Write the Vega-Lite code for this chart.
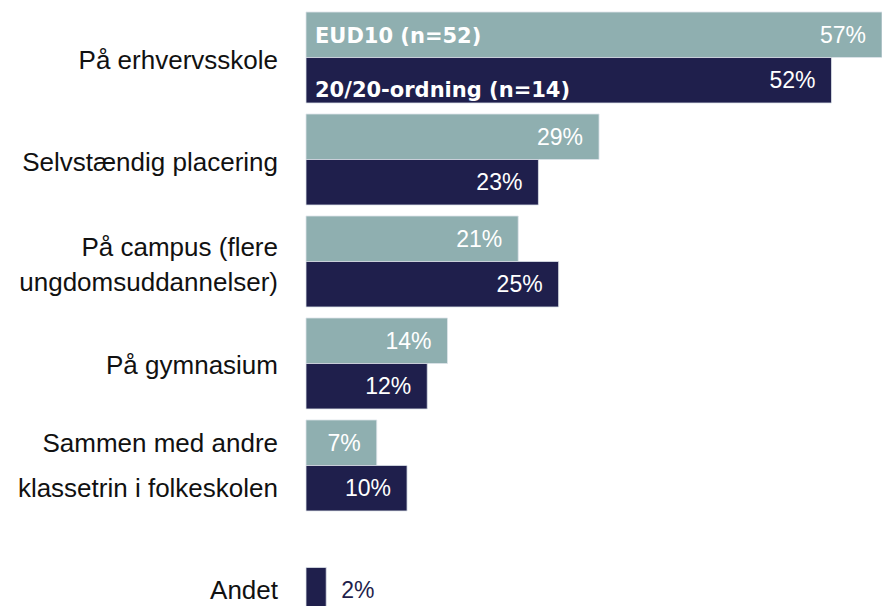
{
  "$schema": "https://vega.github.io/schema/vega-lite/v6.json",
  "width": 576,
  "height": 606,
  "autosize": {"type": "none"},
  "padding": {"left": 306, "top": 0, "right": 0, "bottom": 0},
  "background": "white",
  "config": {"view": {"stroke": null}, "font": "Liberation Sans"},
  "datasets": {
    "andele": [
      {"kategori": "På erhvervsskole", "gruppe": "EUD10 (n=52)", "andel": 0.57},
      {"kategori": "På erhvervsskole", "gruppe": "20/20-ordning (n=14)", "andel": 0.52},
      {"kategori": "Selvstændig placering", "gruppe": "EUD10 (n=52)", "andel": 0.29},
      {"kategori": "Selvstændig placering", "gruppe": "20/20-ordning (n=14)", "andel": 0.23},
      {"kategori": "På campus (flere ungdomsuddannelser)", "gruppe": "EUD10 (n=52)", "andel": 0.21},
      {"kategori": "På campus (flere ungdomsuddannelser)", "gruppe": "20/20-ordning (n=14)", "andel": 0.25},
      {"kategori": "På gymnasium", "gruppe": "EUD10 (n=52)", "andel": 0.14},
      {"kategori": "På gymnasium", "gruppe": "20/20-ordning (n=14)", "andel": 0.12},
      {"kategori": "Sammen med andre klassetrin i folkeskolen", "gruppe": "EUD10 (n=52)", "andel": 0.07},
      {"kategori": "Sammen med andre klassetrin i folkeskolen", "gruppe": "20/20-ordning (n=14)", "andel": 0.10},
      {"kategori": "Andet", "gruppe": "20/20-ordning (n=14)", "andel": 0.02}
    ],
    "etiketter": [
      {"kategori": "På erhvervsskole", "gruppe": null, "linjer": 1, "tekst": "På erhvervsskole"},
      {"kategori": "Selvstændig placering", "gruppe": null, "linjer": 1, "tekst": "Selvstændig placering"},
      {"kategori": "På campus (flere ungdomsuddannelser)", "gruppe": null, "linjer": 2, "tekst": "På campus (flere\nungdomsuddannelser)"},
      {"kategori": "På gymnasium", "gruppe": null, "linjer": 1, "tekst": "På gymnasium"},
      {"kategori": "Sammen med andre klassetrin i folkeskolen", "gruppe": "EUD10 (n=52)", "linjer": 1, "tekst": "Sammen med andre"},
      {"kategori": "Sammen med andre klassetrin i folkeskolen", "gruppe": "20/20-ordning (n=14)", "linjer": 1, "tekst": "klassetrin i folkeskolen"},
      {"kategori": "Andet", "gruppe": "20/20-ordning (n=14)", "linjer": 1, "tekst": "Andet"}
    ]
  },
  "encoding": {
    "y": {
      "field": "kategori",
      "type": "nominal",
      "sort": null,
      "axis": null,
      "scale": {
        "domain": [
          "På erhvervsskole",
          "Selvstændig placering",
          "På campus (flere ungdomsuddannelser)",
          "På gymnasium",
          "Sammen med andre klassetrin i folkeskolen",
          "Andet"
        ],
        "range": [0, 625],
        "paddingInner": 0.108,
        "paddingOuter": 0.118
      }
    }
  },
  "layer": [
    {
      "data": {"name": "andele"},
      "mark": {"type": "bar", "stroke": "#dde3ea", "strokeWidth": 0.8},
      "encoding": {
        "x": {"field": "andel", "type": "quantitative", "axis": null, "scale": {"domain": [0, 0.57], "nice": false, "zero": true}},
        "yOffset": {"field": "gruppe", "type": "nominal", "scale": {"domain": ["EUD10 (n=52)", "20/20-ordning (n=14)"], "paddingInner": 0, "paddingOuter": 0}},
        "color": {"field": "gruppe", "type": "nominal", "legend": null, "scale": {"domain": ["EUD10 (n=52)", "20/20-ordning (n=14)"], "range": ["#8fafb0", "#1f1f4c"]}}
      }
    },
    {
      "data": {"name": "andele"},
      "transform": [{"filter": "datum.andel >= 0.05"}],
      "mark": {"type": "text", "align": "right", "baseline": "middle", "dx": -16, "dy": 1, "fontSize": 23, "fill": "white"},
      "encoding": {
        "x": {"field": "andel", "type": "quantitative"},
        "yOffset": {"field": "gruppe", "type": "nominal"},
        "text": {"field": "andel", "type": "quantitative", "format": ".0%"}
      }
    },
    {
      "data": {"name": "andele"},
      "transform": [{"filter": "datum.andel < 0.05"}],
      "mark": {"type": "text", "align": "left", "baseline": "middle", "dx": 15, "dy": 1, "fontSize": 23, "fill": "#1f1f4c"},
      "encoding": {
        "x": {"field": "andel", "type": "quantitative"},
        "yOffset": {"field": "gruppe", "type": "nominal"},
        "text": {"field": "andel", "type": "quantitative", "format": ".0%"}
      }
    },
    {
      "data": {"name": "andele"},
      "transform": [{"filter": "datum.kategori === 'På erhvervsskole' && datum.gruppe === 'EUD10 (n=52)'"}],
      "mark": {"type": "text", "align": "left", "baseline": "alphabetic", "dx": 9, "dy": 8.5, "font": "DejaVu Sans", "fontWeight": "bold", "fontSize": 21, "fill": "white"},
      "encoding": {
        "x": {"datum": 0, "type": "quantitative"},
        "yOffset": {"field": "gruppe", "type": "nominal"},
        "text": {"field": "gruppe", "type": "nominal"}
      }
    },
    {
      "data": {"name": "andele"},
      "transform": [{"filter": "datum.kategori === 'På erhvervsskole' && datum.gruppe === '20/20-ordning (n=14)'"}],
      "mark": {"type": "text", "align": "left", "baseline": "alphabetic", "dx": 9, "dy": 16.5, "font": "DejaVu Sans", "fontWeight": "bold", "fontSize": 21, "fill": "white"},
      "encoding": {
        "x": {"datum": 0, "type": "quantitative"},
        "yOffset": {"field": "gruppe", "type": "nominal"},
        "text": {"field": "gruppe", "type": "nominal"}
      }
    },
    {
      "data": {"name": "etiketter"},
      "transform": [{"filter": "!isValid(datum.gruppe) && datum.linjer === 1"}],
      "mark": {"type": "text", "align": "right", "baseline": "middle", "dx": -28, "dy": 3, "fontSize": 26, "fill": "#111111"},
      "encoding": {
        "x": {"datum": 0, "type": "quantitative"},
        "text": {"field": "tekst", "type": "nominal"}
      }
    },
    {
      "data": {"name": "etiketter"},
      "transform": [{"filter": "!isValid(datum.gruppe) && datum.linjer === 2"}],
      "mark": {"type": "text", "align": "right", "baseline": "middle", "dx": -28, "dy": -14, "fontSize": 26, "lineHeight": 35, "lineBreak": "\n", "fill": "#111111"},
      "encoding": {
        "x": {"datum": 0, "type": "quantitative"},
        "text": {"field": "tekst", "type": "nominal"}
      }
    },
    {
      "data": {"name": "etiketter"},
      "transform": [{"filter": "isValid(datum.gruppe)"}],
      "mark": {"type": "text", "align": "right", "baseline": "middle", "dx": -28, "dy": 1, "fontSize": 26, "fill": "#111111"},
      "encoding": {
        "x": {"datum": 0, "type": "quantitative"},
        "yOffset": {"field": "gruppe", "type": "nominal"},
        "text": {"field": "tekst", "type": "nominal"}
      }
    }
  ]
}
